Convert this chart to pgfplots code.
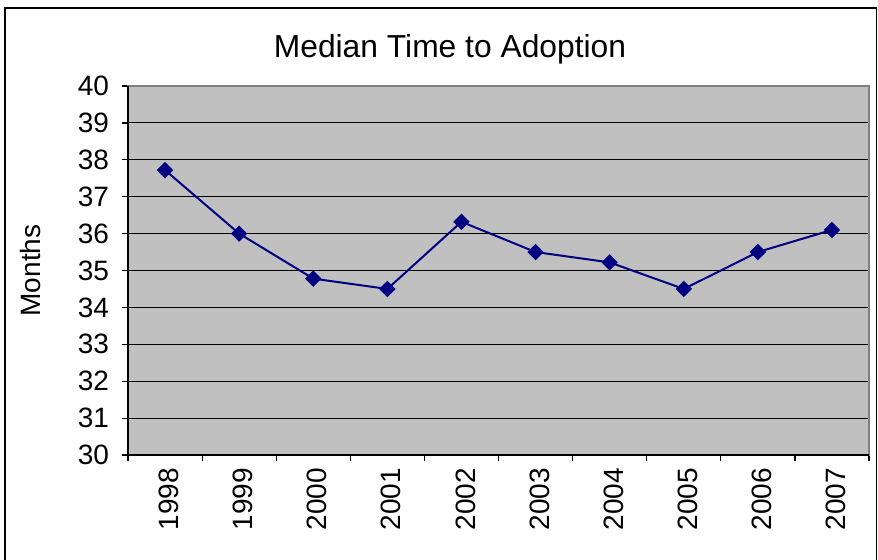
\documentclass[border=0pt]{standalone}
\usepackage{pgfplots}
\pgfplotsset{compat=1.18}
\usepackage{fontspec}
\setmainfont{Liberation Sans}
\definecolor{plotbg}{HTML}{C0C0C0}
\definecolor{navy}{HTML}{000080}
\begin{document}
\begin{tikzpicture}
\useasboundingbox (0pt,0pt) rectangle (439pt,279.5pt);
\draw[black, line width=0.7pt] (2.5pt,-5pt) -- (2.5pt,275.5pt) -- (438.3pt,275.5pt) -- (438.3pt,-5pt);
\node[font=\fontsize{15.9}{18}\selectfont] at (225pt,255pt) {Median Time to Adoption};
\begin{axis}[
  at={(64pt,52pt)}, anchor=south west,
  width=370.5pt, height=184.5pt, scale only axis,
  xmin=-0.5, xmax=9.5, ymin=30, ymax=40,
  ytick={30,31,...,40},
  xtick={0,...,9},
  xticklabels={1998,1999,2000,2001,2002,2003,2004,2005,2006,2007},
  minor xtick={-0.5,0.5,...,9.5},
  major x tick style={draw=none},
  tick pos=left,
  tick align=outside,
  major tick length=3pt, minor tick length=3pt,
  tick style={black, line width=0.6pt},
  every tick label/.append style={font=\fontsize{14}{16}\selectfont},
  /pgf/number format/assume math mode=true,
  xticklabel style={rotate=90, anchor=east, yshift=-2pt},
  yticklabel style={xshift=-3pt},
  ymajorgrids, grid style={black, line width=0.5pt},
  axis background/.style={fill=plotbg},
  axis line style={draw=gray, line width=0.6pt},
  ylabel={Months},
  ylabel style={font=\fontsize{14}{16}\selectfont, at={(-40pt,0.5)}},
  clip=false,
]
\addplot[navy, line width=1pt, mark=square*, mark size=2.4pt, mark options={rotate=45, solid, fill=navy}]
coordinates {(0,37.72) (1,36.0) (2,34.78) (3,34.5) (4,36.32) (5,35.5) (6,35.22) (7,34.5) (8,35.5) (9,36.1)};
\draw[black, line width=0.7pt] (axis cs:-0.5,40) -- (axis cs:-0.5,30) -- (axis cs:9.5,30);
\end{axis}
\end{tikzpicture}
\end{document}
